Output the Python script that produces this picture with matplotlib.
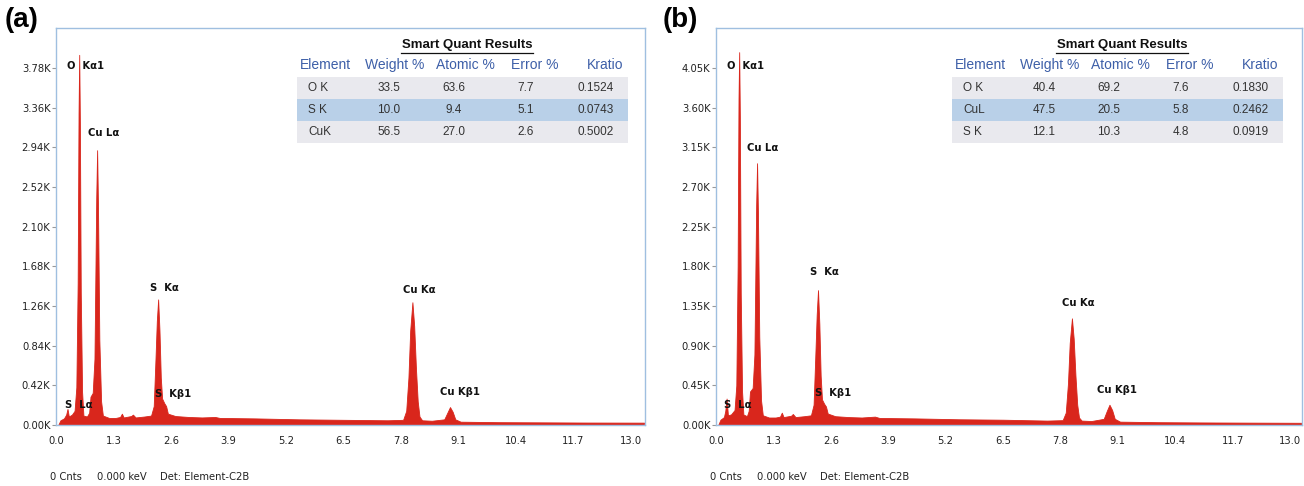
import numpy as np
import matplotlib
matplotlib.use('Agg')
import matplotlib.pyplot as plt
from matplotlib import font_manager as fm
from matplotlib.ticker import FuncFormatter

# ---- data ----
# EDS spectrum (a): energy in keV, counts
energy_a = [0.05, 0.10, 0.18, 0.23, 0.26, 0.29, 0.36, 0.42, 0.46, 0.49, 0.51, 0.525, 0.54, 0.56,
            0.59, 0.62, 0.70, 0.75, 0.78, 0.83, 0.87, 0.91, 0.93, 0.95, 0.98, 1.02, 1.06, 1.20,
            1.35, 1.45, 1.49, 1.53, 1.70, 1.74, 1.80, 2.00, 2.15, 2.21, 2.25, 2.28, 2.31, 2.34,
            2.37, 2.40, 2.45, 2.49, 2.53, 2.70, 3.00, 3.30, 3.60, 3.70, 4.50, 5.50, 6.50, 7.50,
            7.85, 7.92, 7.97, 8.01, 8.06, 8.10, 8.14, 8.18, 8.22, 8.28, 8.50, 8.78, 8.85, 8.91,
            8.97, 9.03, 9.15, 10.0, 11.0, 12.0, 13.3]
counts_a = [0, 50, 70, 110, 170, 90, 110, 150, 400, 1500, 3300, 3920, 3200, 1400,
            350, 100, 90, 130, 300, 340, 700, 2400, 2910, 2300, 900, 250, 100, 75,
            75, 85, 120, 80, 95, 110, 80, 90, 100, 200, 700, 1100, 1330, 1000,
            500, 280, 230, 200, 120, 95, 85, 80, 85, 75, 70, 60, 55, 50,
            55, 150, 500, 1000, 1300, 1050, 600, 250, 90, 50, 45, 60, 130, 190,
            140, 60, 35, 30, 28, 26, 25]

# EDS spectrum (b)
energy_b = [0.05, 0.10, 0.18, 0.21, 0.24, 0.27, 0.34, 0.42, 0.46, 0.49, 0.51, 0.525, 0.54, 0.56,
            0.59, 0.62, 0.70, 0.74, 0.77, 0.83, 0.87, 0.91, 0.93, 0.95, 0.98, 1.02, 1.06, 1.20,
            1.35, 1.45, 1.49, 1.53, 1.70, 1.74, 1.80, 2.00, 2.15, 2.21, 2.25, 2.28, 2.31, 2.34,
            2.37, 2.40, 2.45, 2.49, 2.53, 2.70, 3.00, 3.30, 3.60, 3.70, 4.50, 5.50, 6.50, 7.50,
            7.85, 7.92, 7.97, 8.01, 8.06, 8.10, 8.14, 8.18, 8.22, 8.28, 8.50, 8.78, 8.85, 8.91,
            8.97, 9.03, 9.15, 10.0, 11.0, 12.0, 13.3]
counts_b = [0, 60, 90, 160, 300, 110, 120, 170, 450, 1800, 3700, 4230, 3500, 1500,
            380, 120, 100, 160, 380, 420, 800, 2500, 2970, 2400, 1000, 280, 110, 85,
            85, 95, 140, 90, 105, 125, 90, 100, 110, 230, 800, 1250, 1530, 1150,
            560, 290, 240, 210, 130, 100, 90, 85, 95, 80, 75, 65, 60, 50,
            55, 140, 470, 930, 1210, 980, 560, 230, 85, 50, 45, 70, 160, 230,
            170, 70, 38, 32, 29, 27, 25]

x_ticks = [0.0, 1.3, 2.6, 3.9, 5.2, 6.5, 7.8, 9.1, 10.4, 11.7, 13.0]
y_ticks_a = [0, 420, 840, 1260, 1680, 2100, 2520, 2940, 3360, 3780]
y_ticks_b = [0, 450, 900, 1350, 1800, 2250, 2700, 3150, 3600, 4050]

peak_names = ['O  Kα1', 'Cu Lα', 'S  Kα', 'Cu Kα', 'Cu Kβ1', 'S  Kβ1', 'S  Lα']

table_cols = ['Element', 'Weight %', 'Atomic %', 'Error %', 'Kratio']
elements_a = ['O K', 'S K', 'CuK']
weight_a = [33.5, 10.0, 56.5]
atomic_a = [63.6, 9.4, 27.0]
error_a = [7.7, 5.1, 2.6]
kratio_a = [0.1524, 0.0743, 0.5002]
elements_b = ['O K', 'CuL', 'S K']
weight_b = [40.4, 47.5, 12.1]
atomic_b = [69.2, 20.5, 10.3]
error_b = [7.6, 5.8, 4.8]
kratio_b = [0.1830, 0.2462, 0.0919]

# narrow font for the instrument labels, whichever is available
names = {f.name for f in fm.fontManager.ttflist}
has_cond = any('Condensed' in f.fname for f in fm.fontManager.ttflist if f.name == 'DejaVu Sans')
if 'Liberation Sans Narrow' in names:
    NARROW = dict(family='Liberation Sans Narrow', stretch='normal')
    NSIZE = 8.5
elif has_cond:
    NARROW = dict(family='DejaVu Sans', stretch='condensed')
    NSIZE = 8
else:
    NARROW = dict(family='Liberation Sans', stretch='normal')
    NSIZE = 7.5

ARIAL = ['Liberation Sans', 'DejaVu Sans']
RED = '#d9261c'
FRAME = '#9fbfe0'

W, H = 1304, 486
fig = plt.figure(figsize=(W / 100, H / 100), dpi=100)


def panel(left_px, right_px, xmax, ymax, energy, counts, yticks, label_pos):
    ax = fig.add_axes([left_px / W, (H - 425) / H, (right_px - left_px) / W, (425 - 28) / H])
    ax.fill_between(energy, counts, color=RED, lw=0.6, edgecolor=RED)
    ax.set_xlim(0, xmax)
    ax.set_ylim(0, ymax)
    ax.set_xticks(x_ticks)
    ax.set_xticklabels([f'{t:.1f}' for t in x_ticks])
    ax.set_yticks(yticks)
    ax.yaxis.set_major_formatter(FuncFormatter(lambda v, p: f'{v / 1000:.2f}K'))
    for s in ax.spines.values():
        s.set_color(FRAME)
        s.set_linewidth(1.0)
    ax.tick_params(axis='x', length=0, pad=8, labelsize=NSIZE, labelcolor='#222222')
    ax.tick_params(axis='y', length=3, color='#999999', pad=1, labelsize=NSIZE, labelcolor='#222222')
    for t in ax.get_xticklabels() + ax.get_yticklabels():
        t.set_family(NARROW['family'])
        t.set_stretch(NARROW['stretch'])
    for name, (px, py) in zip(peak_names, label_pos):
        ax.text(px, py, name, fontsize=NSIZE, fontweight='bold', ha='left', va='center',
                color='#111111', **NARROW)
    return ax


panel(56, 645, 13.32, 4204, energy_a, counts_a, y_ticks_a,
      [(0.25, 3800), (0.72, 3090), (2.13, 1450), (7.85, 1430), (8.68, 350), (2.24, 330), (0.20, 210)])
panel(716, 1302, 13.27, 4504, energy_b, counts_b, y_ticks_b,
      [(0.25, 4070), (0.70, 3140), (2.13, 1740), (7.84, 1380), (8.63, 400), (2.24, 360), (0.18, 230)])

# overlay in pixel coordinates for tables and captions
ov = fig.add_axes([0, 0, 1, 1])
ov.set_xlim(0, W)
ov.set_ylim(H, 0)
ov.axis('off')
ov.patch.set_alpha(0)


def quant_table(x0, elements, weight, atomic, error, kratio):
    ov.text(x0 + 170, 45, 'Smart Quant Results', fontsize=9.5, fontweight='bold',
            family=ARIAL, ha='center', va='center', color='#111111')
    ov.plot([x0 + 104, x0 + 236], [53, 53], color='#111111', lw=0.9)
    head_x = [28, 98, 168, 238, 308]
    for cx, name in zip(head_x, table_cols):
        ov.text(x0 + cx, 65, name, fontsize=10, family=ARIAL, ha='center', va='center',
                color='#3d5fa8')
    bands = ['#e9e9ee', '#b9d0e8', '#e9e9ee']
    for i in range(3):
        top = 77 + i * 22
        ov.add_patch(plt.Rectangle((x0, top), 331, 22, color=bands[i], lw=0))
        cy = top + 11
        ov.text(x0 + 11, cy, elements[i], fontsize=8.5, family=ARIAL, ha='left', va='center', color='#333333')
        ov.text(x0 + 92, cy, f'{weight[i]:.1f}', fontsize=8.5, family=ARIAL, ha='center', va='center', color='#333333')
        ov.text(x0 + 157, cy, f'{atomic[i]:.1f}', fontsize=8.5, family=ARIAL, ha='center', va='center', color='#333333')
        ov.text(x0 + 229, cy, f'{error[i]:.1f}', fontsize=8.5, family=ARIAL, ha='center', va='center', color='#333333')
        ov.text(x0 + 299, cy, f'{kratio[i]:.4f}', fontsize=8.5, family=ARIAL, ha='center', va='center', color='#333333')


quant_table(297, elements_a, weight_a, atomic_a, error_a, kratio_a)
quant_table(952, elements_b, weight_b, atomic_b, error_b, kratio_b)

for x0, tag in [(0, '(a)'), (658, '(b)')]:
    ov.text(x0 + 5, 20, tag, fontsize=20, fontweight='bold', family=ARIAL, ha='left', va='center')

for x0 in [50, 710]:
    ov.text(x0, 477, '0 Cnts', fontsize=NSIZE, ha='left', va='center', color='#222222', **NARROW)
    ov.text(x0 + 47, 477, '0.000 keV', fontsize=NSIZE, ha='left', va='center', color='#222222', **NARROW)
    ov.text(x0 + 110, 477, 'Det: Element-C2B', fontsize=NSIZE, ha='left', va='center', color='#222222', **NARROW)

fig.savefig('out.png', dpi=100)
